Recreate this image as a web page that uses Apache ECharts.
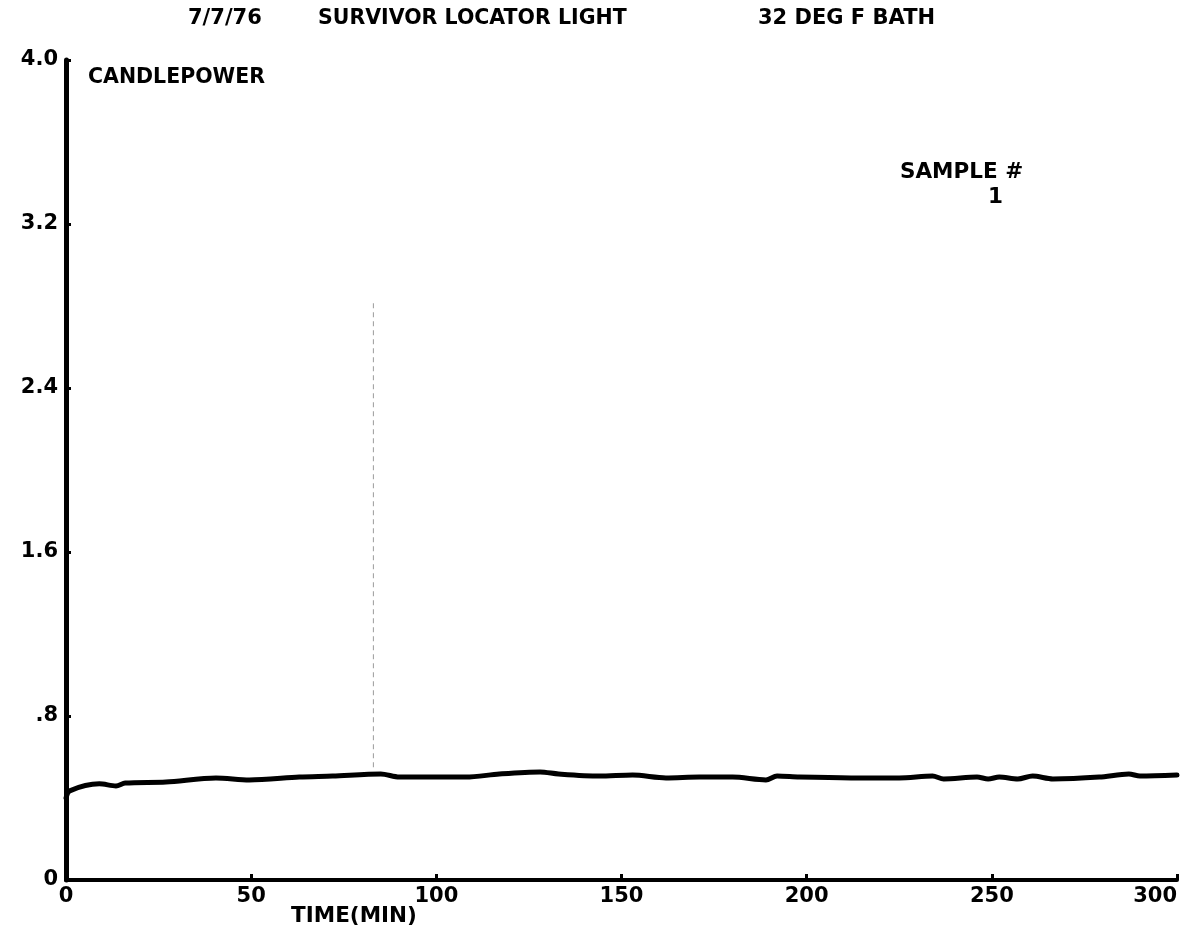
<!DOCTYPE html>
<html>
<head>
<meta charset="utf-8">
<script src="https://cdn.jsdelivr.net/npm/echarts@6/dist/echarts.min.js"></script>
<style>
html,body{margin:0;padding:0;background:#fff;}
#chart{width:1185px;height:941px;}
</style>
</head>
<body>
<div id="chart"></div>
<script>
// ---- data ----
const timeMin = [0, 1, 9, 13.5, 16, 27, 40.5, 49.5, 63, 72, 85, 90, 108, 117, 128, 133, 144, 153, 162, 171, 180, 189, 192, 198, 212, 225, 234, 237, 246, 249, 252, 257, 261, 266.5, 279, 287, 290, 300];
const candlepower = [0.40, 0.435, 0.469, 0.459, 0.473, 0.478, 0.498, 0.488, 0.502, 0.507, 0.517, 0.502, 0.502, 0.517, 0.527, 0.517, 0.507, 0.512, 0.498, 0.502, 0.502, 0.488, 0.507, 0.502, 0.498, 0.498, 0.507, 0.493, 0.502, 0.493, 0.502, 0.493, 0.507, 0.493, 0.502, 0.517, 0.507, 0.512];
// faint vertical scan streak visible in the reference
const streakTime = [83, 83];
const streakValues = [0.55, 2.83];
const yTicks = {min: 0, max: 4, interval: 0.8};
const xTicks = {min: 0, max: 300, interval: 50};
const titleParts = ['7/7/76', 'SURVIVOR LOCATOR LIGHT', '32 DEG F BATH'];
const yAxisTitle = 'CANDLEPOWER';
const xAxisTitle = 'TIME(MIN)';
const sampleLabel = ['SAMPLE #', '1'];

const FONT = '"DejaVu Sans", "Liberation Sans", sans-serif';
const chart = echarts.init(document.getElementById('chart'), null, {renderer: 'canvas'});

function txt(text, x, y, size, align) {
  return {
    type: 'text', x: x, y: y, silent: true,
    style: {text: text, font: 'bold ' + size + 'px ' + FONT, fill: '#000',
            textAlign: align || 'left', textVerticalAlign: 'middle'}
  };
}

chart.setOption({
  backgroundColor: '#fff',
  animation: false,
  grid: {left: 66, right: 8, top: 60, bottom: 61, containLabel: false},
  xAxis: {
    type: 'value', min: xTicks.min, max: xTicks.max, interval: xTicks.interval,
    axisLine: {show: true, lineStyle: {color: '#000', width: 4}},
    axisTick: {show: true, inside: true, length: 6, lineStyle: {color: '#000', width: 3}},
    splitLine: {show: false},
    axisLabel: {color: '#000', fontFamily: FONT, fontWeight: 'bold', fontSize: 21, margin: 6,
                alignMaxLabel: 'right'}
  },
  yAxis: {
    type: 'value', min: yTicks.min, max: yTicks.max, interval: yTicks.interval,
    axisLine: {show: true, lineStyle: {color: '#000', width: 5}},
    axisTick: {show: true, inside: true, length: 5, lineStyle: {color: '#000', width: 3}},
    splitLine: {show: false},
    axisLabel: {color: '#000', fontFamily: FONT, fontWeight: 'bold', fontSize: 21, margin: 8,
                formatter: function (v) {
                  if (v === 0) return '0';
                  if (v < 1) return '.' + Math.round(v * 10);
                  return v.toFixed(1);
                }}
  },
  series: [
    {
      type: 'line', name: 'streak', silent: true, showSymbol: false,
      data: streakTime.map((t, i) => [t, streakValues[i]]),
      lineStyle: {color: '#9a9a9a', width: 1, type: [5, 4]}, z: 1
    },
    {
      type: 'line', name: 'Sample 1', showSymbol: false, smooth: 0.3,
      data: timeMin.map((t, i) => [t, candlepower[i]]),
      lineStyle: {color: '#000', width: 5, cap: 'round', join: 'round'}, z: 3
    }
  ],
  graphic: [
    txt(titleParts[0], 188, 19, 21),
    txt(titleParts[1], 318, 19, 20.5),
    txt(titleParts[2], 758, 19, 21),
    txt(yAxisTitle, 88, 78, 20.5),
    txt(sampleLabel[0], 900, 172, 21.5),
    txt(sampleLabel[1], 988, 197, 21.5),
    txt(xAxisTitle, 354, 916, 21.5, 'center')
  ]
});
</script>
</body>
</html>
